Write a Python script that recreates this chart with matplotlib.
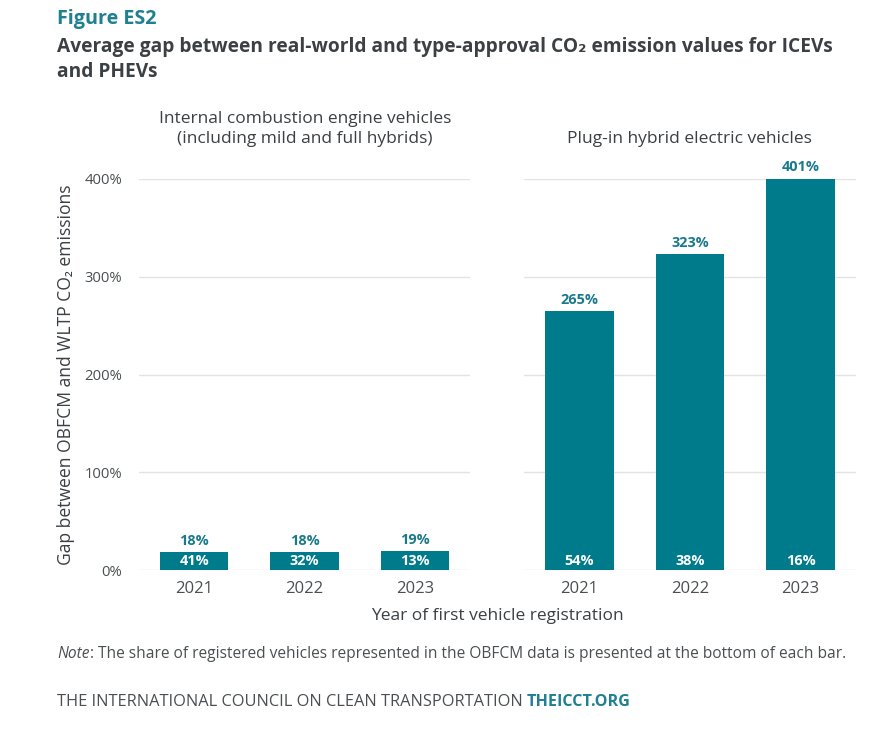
import matplotlib.pyplot as plt

years = ['2021', '2022', '2023']
icev_gap = [18, 18, 19]
icev_share = ['41%', '32%', '13%']
phev_gap = [265, 323, 401]
phev_share = ['54%', '38%', '16%']
yticks = [0, 100, 200, 300, 400]

teal = '#007b8c'
label_teal = '#1a7a8c'
dark = '#3b4044'
body = '#4a4f52'
grid_col = '#e3e3e3'

plt.rcParams['font.family'] = ['Open Sans', 'DejaVu Sans']

fig = plt.figure(figsize=(8.82, 7.32), dpi=100)
W, H = 882, 732
renderer = fig.canvas.get_renderer()


def fx(px):
    return px / W


def fy(py):
    return 1 - py / H


def fit(t, target, vertical=False):
    # scale the font so the text spans the width (px) measured on the reference
    bb = t.get_window_extent(renderer)
    cur = bb.height if vertical else bb.width
    t.set_fontsize(t.get_fontsize() * target / cur)
    return t.get_fontsize()


def add_ax(x0, x1):
    y0, y1 = 570, 179
    return fig.add_axes([fx(x0), fy(y0), (x1 - x0) / W, (y0 - y1) / H])


ax1 = add_ax(139, 470)
ax2 = add_ax(524, 856)

probe = fig.text(0, 0, '400%', fontsize=10)
tick_fs = fit(probe, 38)
probe.set_text('2021')
probe.set_fontsize(10)
year_fs = fit(probe, 38)
probe.set_text('401%')
probe.set_fontsize(10)
probe.set_fontweight('bold')
val_fs = fit(probe, 38)
probe.remove()

for ax, gap, share in [(ax1, icev_gap, icev_share), (ax2, phev_gap, phev_share)]:
    x = list(range(len(years)))
    ax.bar(x, gap, width=0.62, color=teal, zorder=3)
    ax.set_xlim(-0.5, 2.5)
    ax.set_ylim(0, 400)
    ax.set_yticks(yticks)
    ax.grid(True, axis='y', color=grid_col, linewidth=1, zorder=0)
    for s in ax.spines.values():
        s.set_visible(False)
    ax.tick_params(length=0, colors=body)
    ax.tick_params(axis='y', labelsize=tick_fs, pad=12)
    ax.tick_params(axis='x', labelsize=year_fs, pad=8)
    ax.set_xticks(x)
    ax.set_xticklabels(years)
    for i in x:
        ax.text(i, gap[i] + 11.3, f'{gap[i]}%', ha='center', va='center',
                color=label_teal, fontsize=val_fs, fontweight='bold', clip_on=False)
        ax.text(i, 9, share[i], ha='center', va='center',
                color='white', fontsize=val_fs, fontweight='bold', zorder=4)

ax1.set_yticklabels([f'{v}%' for v in yticks])
ax2.set_yticklabels([])

t = fig.text(fx(305), fy(119), 'Internal combustion engine vehicles',
             ha='center', va='center', fontsize=10, color=dark)
sub_fs = fit(t, 291)
fig.text(fx(305), fy(139), '(including mild and full hybrids)',
         ha='center', va='center', fontsize=sub_fs, color=dark)
fig.text(fx(689), fy(139), 'Plug-in hybrid electric vehicles',
         ha='center', va='center', fontsize=sub_fs, color=dark)

t = fig.text(fx(66), fy(375), 'Gap between OBFCM and WLTP CO₂ emissions',
             rotation=90, ha='center', va='center', fontsize=10, color=dark)
fit(t, 382, vertical=True)
t = fig.text(fx(497), fy(616), 'Year of first vehicle registration',
             ha='center', va='center', fontsize=10, color=dark)
fit(t, 253)

t = fig.text(fx(57), fy(19), 'Figure ES2', ha='left', va='center',
             fontsize=10, fontweight='bold', color='#1f8092')
fit(t, 100)
t = fig.text(fx(57), fy(47),
             'Average gap between real-world and type-approval CO₂ emission values for ICEVs',
             ha='left', va='center', fontsize=10, fontweight='bold', color=dark)
title_fs = fit(t, 775)
fig.text(fx(57), fy(72), 'and PHEVs', ha='left', va='center',
         fontsize=title_fs, fontweight='bold', color=dark)

# note line: italic "Note" followed by the rest
note_rest = ': The share of registered vehicles represented in the OBFCM data is presented at the bottom of each bar.'
t = fig.text(fx(57), fy(654), 'Note' + note_rest, ha='left', va='center',
             fontsize=10, color=body)
note_fs = fit(t, 791)
t.remove()
n = fig.text(fx(57), fy(654), 'Note', ha='left', va='center',
             fontsize=note_fs, style='italic', color=body)
nb = n.get_window_extent(renderer)
fig.text(nb.x1 / W, fy(654), note_rest, ha='left', va='center',
         fontsize=note_fs, color=body)

t = fig.text(fx(57), fy(702), 'THE INTERNATIONAL COUNCIL ON CLEAN TRANSPORTATION',
             ha='left', va='center', fontsize=10, color=body)
fit(t, 466)
t = fig.text(fx(527), fy(702), 'THEICCT.ORG', ha='left', va='center',
             fontsize=10, fontweight='bold', color='#1f8092')
fit(t, 103)

fig.savefig('out.png', dpi=100, facecolor='white')
